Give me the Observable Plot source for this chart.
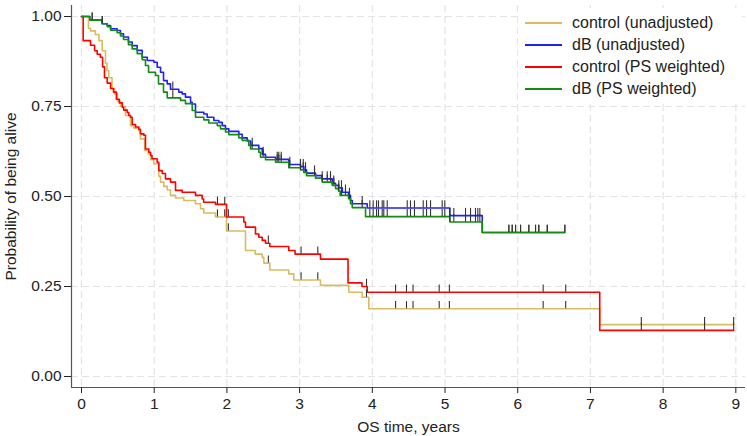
<!DOCTYPE html>
<html><head><meta charset="utf-8">
<script src="https://cdn.jsdelivr.net/npm/d3@7"></script>
<script src="https://cdn.jsdelivr.net/npm/@observablehq/plot@0.6"></script>
<style>
body{margin:0;background:#fff;}
#wrap{position:relative;width:747px;height:436px;font-family:"Liberation Sans",Arial,sans-serif;}
#legend{position:absolute;left:518px;top:8px;width:224px;height:92px;background:#fff;}
.row{position:absolute;left:0;height:20px;display:flex;align-items:center;font-size:16px;color:#222;white-space:nowrap;}
.sw{width:37px;height:2px;margin-left:7px;margin-right:10px;}
</style></head><body><div id="wrap"><div id="legend"></div></div>
<script>
// ---- data ----
const seriesNames = ["control (unadjusted)", "dB (unadjusted)", "control (PS weighted)", "dB (PS weighted)"];
const seriesColors = ["#D9BC62", "#2020FF", "#FF0000", "#128C12"];
const xTicks = [0,1,2,3,4,5,6,7,8,9];
const yTicks = [0, 0.25, 0.5, 0.75, 1];

// control, unadjusted (step times, survival after step)
const ctrlUnadjT = [0,0.096,0.124,0.19,0.24,0.285,0.33,0.35,0.375,0.42,0.454,0.495,0.536,0.605,0.674,0.72,0.788,0.81,0.87,0.917,0.95,0.994,1.063,1.087,1.132,1.179,1.224,1.293,1.407,1.568,1.637,1.682,1.843,1.994,2.256,2.39,2.486,2.508,2.59,2.851,2.92,3.287,3.677,3.861,3.952,7.128];
const ctrlUnadjS = [1,0.967,0.96,0.95,0.933,0.905,0.87,0.85,0.83,0.80,0.785,0.765,0.75,0.725,0.697,0.69,0.683,0.66,0.628,0.618,0.602,0.591,0.556,0.54,0.528,0.518,0.503,0.496,0.489,0.48,0.466,0.454,0.443,0.404,0.35,0.34,0.331,0.315,0.296,0.285,0.268,0.253,0.234,0.22,0.188,0.144];
// control, PS weighted
const ctrlPsT = [0,0.023,0.124,0.18,0.216,0.26,0.29,0.316,0.354,0.40,0.44,0.48,0.52,0.56,0.58,0.63,0.65,0.674,0.697,0.743,0.788,0.81,0.857,0.88,0.926,0.95,0.97,1.04,1.063,1.11,1.155,1.224,1.293,1.385,1.568,1.66,1.68,1.843,1.994,2.232,2.256,2.393,2.439,2.486,2.531,2.59,2.851,2.937,3.287,3.666,3.858,3.93,7.128];
const ctrlPsS = [1,0.933,0.92,0.905,0.895,0.887,0.86,0.83,0.815,0.80,0.79,0.77,0.76,0.748,0.74,0.733,0.725,0.72,0.70,0.693,0.687,0.674,0.67,0.632,0.623,0.614,0.605,0.595,0.572,0.564,0.549,0.54,0.517,0.512,0.503,0.493,0.484,0.478,0.443,0.429,0.415,0.396,0.387,0.378,0.37,0.361,0.35,0.34,0.326,0.26,0.25,0.234,0.128];
// dB, unadjusted
const dbUnadjT = [0,0.114,0.285,0.354,0.40,0.49,0.536,0.578,0.646,0.697,0.766,0.835,0.904,0.994,1.041,1.087,1.128,1.179,1.224,1.338,1.385,1.43,1.50,1.523,1.568,1.682,1.729,1.82,1.889,1.935,1.98,2.026,2.164,2.21,2.279,2.325,2.439,2.486,2.531,2.669,2.851,3.012,3.058,3.095,3.219,3.311,3.448,3.494,3.535,3.586,3.673,3.70,3.724,3.93,5.066,5.512];
const dbUnadjS = [1,0.99,0.98,0.975,0.966,0.961,0.952,0.943,0.929,0.919,0.906,0.887,0.878,0.873,0.859,0.845,0.822,0.813,0.798,0.79,0.785,0.776,0.762,0.757,0.734,0.729,0.72,0.711,0.706,0.697,0.688,0.681,0.673,0.663,0.654,0.642,0.633,0.617,0.609,0.603,0.589,0.583,0.574,0.565,0.558,0.549,0.537,0.531,0.524,0.512,0.503,0.489,0.48,0.468,0.447,0.40];
// dB, PS weighted
const dbPsT = [0,0.114,0.285,0.354,0.40,0.49,0.536,0.578,0.646,0.697,0.766,0.835,0.88,0.922,1.018,1.059,1.128,1.179,1.362,1.43,1.523,1.568,1.682,1.751,1.867,1.912,1.981,2.026,2.164,2.21,2.301,2.325,2.439,2.462,2.531,2.669,2.851,3.012,3.058,3.095,3.219,3.311,3.448,3.494,3.535,3.558,3.673,3.70,3.724,3.907,5.066,5.512];
const dbPsS = [1,0.99,0.98,0.972,0.962,0.955,0.946,0.936,0.922,0.91,0.897,0.88,0.864,0.845,0.836,0.813,0.79,0.774,0.767,0.758,0.739,0.72,0.713,0.704,0.697,0.688,0.679,0.672,0.663,0.656,0.642,0.632,0.623,0.609,0.602,0.595,0.58,0.574,0.567,0.558,0.551,0.54,0.531,0.522,0.515,0.503,0.494,0.48,0.469,0.444,0.429,0.40];

const ctrlEnd = 8.97;
const dbEnd = 6.648;

// censoring times (ticks shown on both curves of a group)
const ctrlCensor = [1.87,1.97,2.02,2.57,3.02,3.25,3.92,4.32,4.47,4.56,4.92,5.06,6.35,6.66,7.70,8.57,8.97];
const dbCensor = [0.147,0.285,1.256,2.348,2.499,2.692,2.714,2.747,2.865,3.012,3.05,3.081,3.205,3.311,3.38,3.425,3.47,3.539,3.576,3.631,3.686,3.861,3.966,4.012,4.058,4.085,4.136,4.158,4.205,4.48,4.525,4.58,4.70,4.746,4.801,4.961,4.997,5.066,5.121,5.282,5.351,5.419,5.451,5.479,5.878,5.924,5.97,6.039,6.153,6.245,6.29,6.406,6.648];

// ---- build ----
function rows(T, S, end) {
  const r = T.map((t, i) => ({t, s: S[i]}));
  r.push({t: end, s: S[S.length - 1]});
  return r;
}
function valueAt(T, S, t) {
  let v = S[0];
  for (let i = 0; i < T.length; i++) if (T[i] <= t + 1e-9) v = S[i];
  return v;
}
function censorRows(C, T, S) { return C.map(t => ({t, s: valueAt(T, S, t)})); }

const curves = [
  {T: ctrlUnadjT, S: ctrlUnadjS, end: ctrlEnd, C: ctrlCensor},
  {T: dbUnadjT, S: dbUnadjS, end: dbEnd, C: dbCensor},
  {T: ctrlPsT, S: ctrlPsS, end: ctrlEnd, C: ctrlCensor},
  {T: dbPsT, S: dbPsS, end: dbEnd, C: dbCensor}
];

const xDom = [-0.1376, 9.133];
const yDom = [-0.0306, 1.0306];
const tickLen = 0.02;

const marks = [
  Plot.gridX(xTicks, {stroke: "#e4e4e4", strokeOpacity: 1, strokeWidth: 1.2, strokeDasharray: "7,4"}),
  Plot.gridY(yTicks, {stroke: "#e4e4e4", strokeOpacity: 1, strokeWidth: 1.2, strokeDasharray: "7,4"}),
  Plot.ruleX([xDom[0]], {stroke: "#555", strokeWidth: 1.2}),
  Plot.ruleY([yDom[0]], {stroke: "#555", strokeWidth: 1.2}),
  Plot.axisX(xTicks, {tickSize: 6, tickPadding: 4, fontSize: 15.5, label: "OS time, years", labelAnchor: "center", labelArrow: "none", labelOffset: 44}),
  Plot.axisY(yTicks, {tickSize: 7, tickPadding: 3, fontSize: 15.5, tickFormat: d3.format(".2f"), label: "Probability of being alive", labelAnchor: "center", labelArrow: "none", labelOffset: 67})
];
curves.forEach((c, i) => {
  marks.push(Plot.line(rows(c.T, c.S, c.end), {x: "t", y: "s", curve: "step-after", stroke: seriesColors[i], strokeWidth: 1.6}));
});
curves.forEach((c, i) => {
  marks.push(Plot.ruleX(censorRows(c.C, c.T, c.S), {x: "t", y1: "s", y2: d => d.s + tickLen, stroke: "#333", strokeWidth: 1.1}));
});

const chart = Plot.plot({
  width: 747, height: 436,
  marginLeft: 71, marginRight: 2, marginTop: 5, marginBottom: 49,
  x: {domain: xDom}, y: {domain: yDom},
  style: {fontFamily: "'Liberation Sans', Arial, sans-serif", color: "#222", background: "white"},
  marks
});
const wrap = document.getElementById("wrap");
wrap.insertBefore(chart, wrap.firstChild);

const legend = document.getElementById("legend");
seriesNames.forEach((name, i) => {
  const row = document.createElement("div");
  row.className = "row";
  row.style.top = (5 + i * 22) + "px";
  const sw = document.createElement("span");
  sw.className = "sw";
  sw.style.background = seriesColors[i];
  const tx = document.createElement("span");
  tx.textContent = name;
  row.appendChild(sw); row.appendChild(tx);
  legend.appendChild(row);
});
</script>
</body></html>
